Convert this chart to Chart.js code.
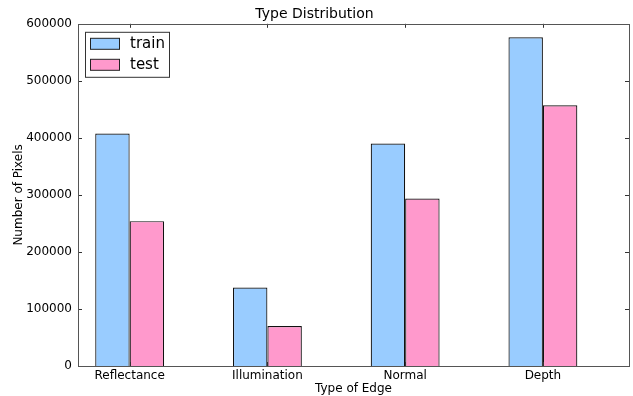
<!DOCTYPE html>
<html><head><meta charset="utf-8">
<script src="https://cdn.jsdelivr.net/npm/chart.js@4/dist/chart.umd.min.js"></script>
<style>html,body{margin:0;padding:0;background:#fff}#wrap{width:633px;height:396px}</style>
</head><body><div id="wrap"><canvas id="c" width="633" height="396"></canvas></div>
<script>
const categories = ["Reflectance", "Illumination", "Normal", "Depth"];
const trainValues = [407500, 137500, 390000, 576500];
const testValues = [254000, 70000, 293500, 457000];
const yTicks = [0, 100000, 200000, 300000, 400000, 500000, 600000];
const seriesNames = ["train", "test"];
const seriesColors = ["#99ccff", "#ff99cc"];

const FONT = "'DejaVu Sans', sans-serif";
const xPositions = categories.map((c, i) => i);

const framePlugin = {
  id: 'frame',
  afterDatasetsDraw(chart) {
    const {ctx, chartArea: a, scales} = chart;
    ctx.save();
    ctx.strokeStyle = '#333';
    ctx.lineWidth = 1;
    ctx.beginPath();
    yTicks.forEach(v => {
      const y = Math.round(scales.y.getPixelForValue(v)) + 0.5;
      ctx.moveTo(a.left, y); ctx.lineTo(a.left + 4, y);
      ctx.moveTo(a.right, y); ctx.lineTo(a.right - 4, y);
    });
    xPositions.forEach(p => {
      const x = Math.round(scales.x.getPixelForValue(p)) + 0.5;
      ctx.moveTo(x, a.bottom); ctx.lineTo(x, a.bottom - 4);
      ctx.moveTo(x, a.top); ctx.lineTo(x, a.top + 4);
    });
    ctx.stroke();
    ctx.strokeStyle = '#555';
    ctx.strokeRect(Math.round(a.left) + 0.5, Math.round(a.top) + 0.5, Math.round(a.right - a.left), Math.round(a.bottom - a.top));
    const lx = a.left + 7, ly = a.top + 8;
    ctx.fillStyle = '#fff';
    ctx.fillRect(lx, ly, 84, 45);
    ctx.strokeStyle = '#333';
    ctx.strokeRect(lx + 0.5, ly + 0.5, 84, 45);
    ctx.font = '15px ' + FONT;
    ctx.textBaseline = 'middle';
    seriesNames.forEach((n, i) => {
      const sy = ly + 6 + i * 21;
      ctx.fillStyle = seriesColors[i];
      ctx.fillRect(lx + 5.5, sy + 0.5, 29, 11);
      ctx.strokeStyle = '#222';
      ctx.strokeRect(lx + 5.5, sy + 0.5, 29, 11);
      ctx.fillStyle = '#000';
      ctx.fillText(n, lx + 45, sy + 6);
    });
    ctx.restore();
  }
};

new Chart(document.getElementById('c'), {
  type: 'bar',
  data: {
    datasets: [
      {label: seriesNames[0], data: trainValues.map((v, i) => ({x: xPositions[i], y: v})), backgroundColor: seriesColors[0], borderColor: '#111', borderWidth: 1.2, borderSkipped: 'bottom'},
      {label: seriesNames[1], data: testValues.map((v, i) => ({x: xPositions[i], y: v})), backgroundColor: seriesColors[1], borderColor: '#111', borderWidth: 1.2, borderSkipped: 'bottom'}
    ]
  },
  options: {
    responsive: false,
    animation: false,
    devicePixelRatio: 1,
    layout: {padding: {left: 0, right: 4, top: 0, bottom: 0}},
    datasets: {bar: {categoryPercentage: 0.5, barPercentage: 1.0}},
    plugins: {
      legend: {display: false},
      tooltip: {enabled: false},
      title: {display: true, text: 'Type Distribution', color: '#000', font: {family: FONT, size: 14, weight: 'normal'}, padding: {top: 6, bottom: 1}}
    },
    scales: {
      x: {
        type: 'linear',
        min: -0.375, max: 3.625,
        offset: false,
        afterBuildTicks(s) { s.ticks = xPositions.map(v => ({value: v})); },
        grid: {display: false, drawTicks: false},
        border: {display: false},
        ticks: {color: '#000', font: {family: FONT, size: 12}, padding: 3, maxRotation: 0, callback: v => categories[v]},
        title: {display: true, text: 'Type of Edge', color: '#000', font: {family: FONT, size: 12}, padding: {top: 3, bottom: 0}},
        afterFit(s) { s.height = 30; }
      },
      y: {
        min: 0, max: 600000,
        afterBuildTicks(s) { s.ticks = yTicks.map(v => ({value: v})); },
        grid: {display: false, drawTicks: false},
        border: {display: false},
        ticks: {color: '#000', font: {family: FONT, size: 12}, padding: 6, callback: v => String(v)},
        title: {display: true, text: 'Number of Pixels', color: '#000', font: {family: FONT, size: 12}, padding: {top: 12, bottom: 4}},
        afterFit(s) { s.width = 78; }
      }
    }
  },
  plugins: [framePlugin]
});
</script></body></html>
